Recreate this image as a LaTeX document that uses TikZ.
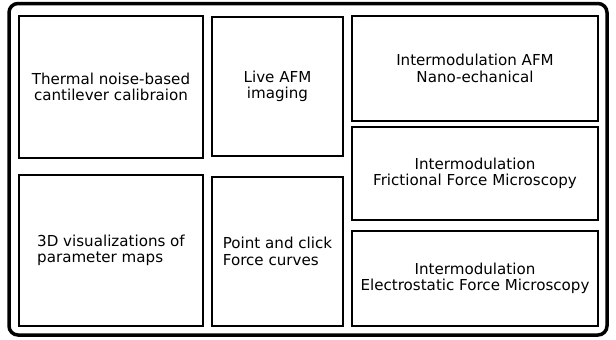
\documentclass[tikz,border=0pt]{standalone}
\usepackage{fontspec}
\setmainfont{DejaVu Sans}
\usepackage{tikz}
\usetikzlibrary{positioning}
\tikzset{
    panel/.style={
        rectangle, draw=black, line width=1.8pt, inner sep=0pt,
        align=center, font=\fontsize{15.1}{16.5}\selectfont
    },
    panel_left/.style={
        panel, align=left
    },
    outer_frame/.style={
        draw=black, line width=3.5pt, rounded corners=9pt
    }
}

\begin{document}
\begin{tikzpicture}[x=1pt, y=-1pt]
    \useasboundingbox (0, 0) rectangle (616, 340);
    \draw[outer_frame] (9, 3.5) rectangle (607, 335);

    \node[panel, minimum width=184pt, minimum height=142pt] (thermal) at (111, 87) {Thermal noise-based\\cantilever calibraion};
    \node[panel, minimum width=131pt, minimum height=139pt] (live) at (277.5, 86.5) {Live AFM\\imaging};
    \node[panel, minimum width=246pt, minimum height=105pt] (nano) at (475, 68.5) {Intermodulation AFM\\Nano-echanical};
    \node[panel, minimum width=246pt, minimum height=93pt] (friction) at (475, 173.5) {Intermodulation\\Frictional Force Microscopy};
    \node[panel, minimum width=246pt, minimum height=95pt] (electro) at (475, 278.5) {Intermodulation\\Electrostatic Force Microscopy};
    \node[panel_left, minimum width=184pt, minimum height=151pt] (maps) at (111, 250.5) {3D visualizations of\\parameter maps};
    \node[panel_left, minimum width=131pt, minimum height=149pt] (curves) at (277.5, 251.5) {Point and click\\Force curves};
\end{tikzpicture}
\end{document}
